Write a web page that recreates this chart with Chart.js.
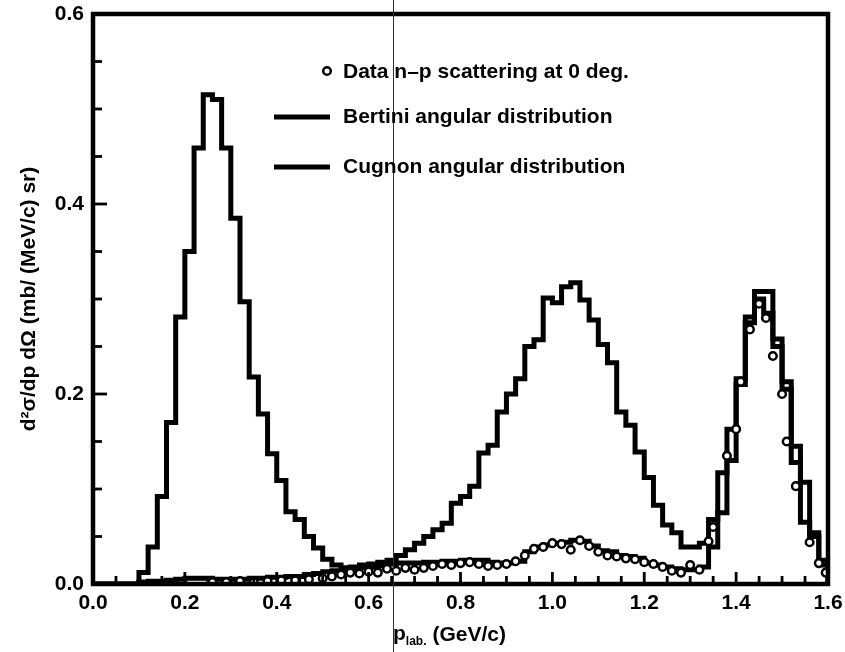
<!DOCTYPE html>
<html>
<head>
<meta charset="utf-8">
<title>n-p scattering at 0 deg.</title>
<script src="https://cdn.jsdelivr.net/npm/chart.js@4.4.1/dist/chart.umd.min.js"></script>
<style>
  html, body { margin: 0; padding: 0; background: #fff; }
  #plot { display: block; }
</style>
</head>
<body>
<canvas id="plot" width="845" height="652"></canvas>
<script>
const FONT = "'Liberation Sans', Arial, Helvetica, sans-serif";

// Histogram bin width (GeV/c); bins start at 0.00
const BIN = 0.02;

// Bertini angular distribution, one value per bin
const bertini = [
  0, 0, 0, 0, 0,
  0.012, 0.039, 0.092, 0.170, 0.281,
  0.350, 0.459, 0.515, 0.510, 0.459,
  0.385, 0.297, 0.218, 0.179, 0.137,
  0.109, 0.076, 0.068, 0.050, 0.038,
  0.026, 0.020, 0.017, 0.018, 0.020,
  0.021, 0.023, 0.025, 0.030, 0.036,
  0.043, 0.050, 0.057, 0.064, 0.085,
  0.092, 0.103, 0.138, 0.146, 0.181,
  0.200, 0.216, 0.250, 0.257, 0.301,
  0.296, 0.313, 0.317, 0.299, 0.278,
  0.252, 0.233, 0.181, 0.167, 0.139,
  0.112, 0.083, 0.062, 0.054, 0.039,
  0.039, 0.043, 0.068, 0.117, 0.163,
  0.216, 0.281, 0.308, 0.308, 0.258,
  0.213, 0.145, 0.107, 0.054, 0.025
];

// Cugnon angular distribution, one value per bin
const cugnon = [
  0, 0, 0, 0, 0,
  0.002, 0.003, 0.003, 0.004, 0.005,
  0.006, 0.006, 0.006, 0.005, 0.005,
  0.005, 0.005, 0.006, 0.006, 0.007,
  0.007, 0.008, 0.008, 0.010, 0.011,
  0.013, 0.014, 0.015, 0.016, 0.017,
  0.018, 0.019, 0.021, 0.022, 0.022,
  0.022, 0.023, 0.023, 0.024, 0.024,
  0.025, 0.025, 0.025, 0.023, 0.022,
  0.022, 0.024, 0.034, 0.039, 0.041,
  0.043, 0.044, 0.046, 0.045, 0.040,
  0.035, 0.034, 0.030, 0.029, 0.027,
  0.022, 0.020, 0.018, 0.016, 0.015,
  0.015, 0.018, 0.039, 0.075, 0.130,
  0.210, 0.275, 0.300, 0.285, 0.250,
  0.205, 0.128, 0.065, 0.050, 0.020
];

// Measured n-p points: momentum (GeV/c) and cross section
const dataP = [
  0.26, 0.29, 0.32, 0.35, 0.38, 0.41, 0.44, 0.47, 0.50,
  0.52, 0.54, 0.56, 0.58, 0.60, 0.62, 0.64, 0.66, 0.68, 0.70,
  0.72, 0.74, 0.76, 0.78, 0.80, 0.82, 0.84, 0.86, 0.88, 0.90,
  0.92, 0.94, 0.96, 0.98, 1.00, 1.02, 1.04, 1.06, 1.08, 1.10,
  1.12, 1.14, 1.16, 1.18, 1.20, 1.22, 1.24, 1.26, 1.28, 1.30, 1.32,
  1.34, 1.35, 1.38, 1.40, 1.41, 1.43, 1.45, 1.465, 1.48, 1.50,
  1.51, 1.53, 1.56, 1.58, 1.595
];
const dataV = [
  0.002, 0.002, 0.003, 0.002, 0.003, 0.004, 0.004, 0.005, 0.006,
  0.008, 0.010, 0.012, 0.011, 0.013, 0.012, 0.016, 0.014, 0.017, 0.015,
  0.017, 0.019, 0.021, 0.020, 0.022, 0.023, 0.021, 0.019, 0.020, 0.021,
  0.024, 0.030, 0.037, 0.039, 0.043, 0.042, 0.036, 0.046, 0.040, 0.034,
  0.030, 0.029, 0.027, 0.026, 0.023, 0.021, 0.018, 0.014, 0.012, 0.020, 0.015,
  0.045, 0.060, 0.135, 0.163, 0.213, 0.268, 0.295, 0.280, 0.240, 0.200,
  0.150, 0.103, 0.044, 0.022, 0.012
];

const xTickLabels = ["0.0", "0.2", "0.4", "0.6", "0.8", "1.0", "1.2", "1.4", "1.6"];
const yTickLabels = ["0.0", "0.2", "0.4", "0.6"];

// Position of the thin vertical fold line across the sheet
const foldAt = 0.653;

// Left bin edges, with a closing point that drops to zero at the end
function histPoints(values) {
  const pts = values.map((v, i) => ({ x: +(i * BIN).toFixed(2), y: v }));
  pts.push({ x: +(values.length * BIN).toFixed(2), y: 0 });
  return pts;
}

// Inward ticks, heavy frame and the fold line
const frame = {
  id: "frame",
  afterDatasetsDraw(chart) {
    const { ctx, chartArea: a, scales: { x, y } } = chart;
    ctx.save();
    ctx.strokeStyle = "#000";
    ctx.lineWidth = 2.8;
    for (let i = 0; i <= 32; i++) {
      const px = x.getPixelForValue(i * 0.05);
      const len = i % 4 === 0 ? 12 : 8;
      ctx.beginPath();
      ctx.moveTo(px, a.bottom);
      ctx.lineTo(px, a.bottom - len);
      ctx.stroke();
    }
    for (let i = 0; i <= 12; i++) {
      const py = y.getPixelForValue(i * 0.05);
      const len = i % 4 === 0 ? 14 : 9;
      ctx.beginPath();
      ctx.moveTo(a.left, py);
      ctx.lineTo(a.left + len, py);
      ctx.stroke();
    }
    ctx.lineWidth = 4.5;
    ctx.strokeRect(a.left, a.top, a.right - a.left, a.bottom - a.top);

    const fx = Math.round(x.getPixelForValue(foldAt)) + 0.5;
    ctx.strokeStyle = "#333";
    ctx.lineWidth = 1;
    ctx.beginPath();
    ctx.moveTo(fx, 0);
    ctx.lineTo(fx, chart.height);
    ctx.stroke();
    ctx.restore();
  }
};

// Legend block inside the frame and the x-axis title with its subscript
const labels = {
  id: "labels",
  afterDraw(chart) {
    const { ctx } = chart;
    const ds = chart.data.datasets;
    ctx.save();
    ctx.fillStyle = "#000";
    ctx.strokeStyle = "#000";
    ctx.font = "bold 21px " + FONT;
    ctx.textBaseline = "middle";
    ctx.textAlign = "left";

    const lx = 274, tx = 343;
    // data marker
    ctx.lineWidth = ds[0].pointBorderWidth;
    ctx.fillStyle = "#fff";
    ctx.beginPath();
    ctx.arc(327, 71, ds[0].pointRadius, 0, Math.PI * 2);
    ctx.fill();
    ctx.stroke();
    ctx.fillStyle = "#000";
    ctx.fillText(ds[0].label, tx, 72);

    [[ds[1], 117], [ds[2], 167]].forEach(([d, ly]) => {
      ctx.lineWidth = d.borderWidth;
      ctx.beginPath();
      ctx.moveTo(lx, ly);
      ctx.lineTo(330, ly);
      ctx.stroke();
      ctx.fillText(d.label, tx, ly);
    });

    // x title: p_lab. (GeV/c)
    ctx.textBaseline = "alphabetic";
    ctx.font = "bold 21px " + FONT;
    const px = 393, base = 640;
    ctx.fillText("p", px, base);
    const pw = ctx.measureText("p").width;
    ctx.font = "bold 12px " + FONT;
    ctx.fillText("lab.", px + pw, base + 5);
    const sw = ctx.measureText("lab.").width;
    ctx.font = "bold 21px " + FONT;
    ctx.fillText("(GeV/c)", px + pw + sw + 6, base + 1);
    ctx.restore();
  }
};

const ctx = document.getElementById("plot").getContext("2d");

new Chart(ctx, {
  type: "line",
  data: {
    datasets: [
      {
        label: "Data n\u2013p scattering at 0 deg.",
        type: "scatter",
        data: dataP.map((p, i) => ({ x: p, y: dataV[i] })),
        showLine: false,
        pointStyle: "circle",
        pointRadius: 3.8,
        pointBorderWidth: 2.5,
        pointBorderColor: "#000",
        pointBackgroundColor: "#fff",
        order: 0
      },
      {
        label: "Bertini angular distribution",
        data: histPoints(bertini),
        stepped: "before",
        borderColor: "#000",
        borderWidth: 5,
        pointRadius: 0,
        fill: false,
        order: 2
      },
      {
        label: "Cugnon angular distribution",
        data: histPoints(cugnon),
        stepped: "before",
        borderColor: "#000",
        borderWidth: 5,
        pointRadius: 0,
        fill: false,
        order: 1
      }
    ]
  },
  options: {
    responsive: false,
    animation: false,
    devicePixelRatio: 1,
    layout: { padding: { left: 0, right: 17, top: 14, bottom: 0 } },
    scales: {
      x: {
        type: "linear",
        min: 0,
        max: 1.6,
        afterFit: s => { s.height = 68; s.paddingLeft = 0; s.paddingRight = 0; },
        grid: { display: false, drawTicks: false },
        border: { display: false },
        ticks: {
          stepSize: 0.2,
          maxRotation: 0,
          autoSkip: false,
          padding: 7,
          color: "#000",
          font: { family: FONT, size: 21, weight: "bold" },
          callback: (v, i) => xTickLabels[i]
        }
      },
      y: {
        type: "linear",
        min: 0,
        max: 0.6,
        afterFit: s => { s.width = 93; s.paddingTop = 0; s.paddingBottom = 0; },
        grid: { display: false, drawTicks: false },
        border: { display: false },
        ticks: {
          stepSize: 0.2,
          padding: 9,
          color: "#000",
          font: { family: FONT, size: 21, weight: "bold" },
          callback: (v, i) => yTickLabels[i]
        },
        title: {
          display: true,
          text: "d\u00b2\u03c3/dp d\u03a9 (mb/ (MeV/c) sr)",
          color: "#000",
          font: { family: FONT, size: 21, weight: "bold" },
          padding: { top: 17, bottom: 0 }
        }
      }
    },
    plugins: {
      legend: { display: false },
      tooltip: { enabled: false }
    }
  },
  plugins: [frame, labels]
});
</script>
</body>
</html>
